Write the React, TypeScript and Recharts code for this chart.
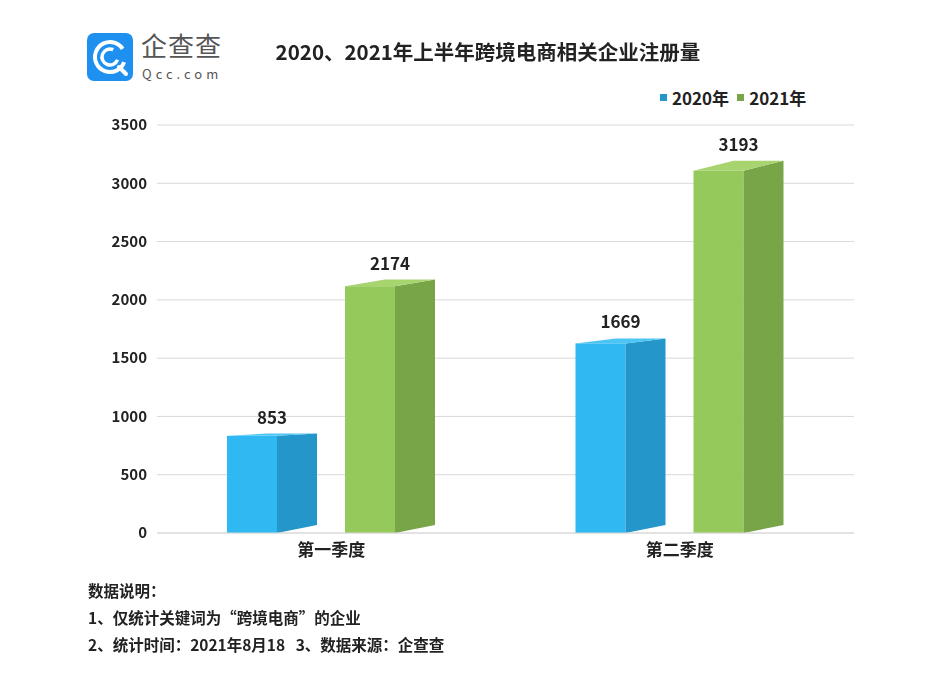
import React from 'react';
import { BarChart, Bar, XAxis, YAxis, CartesianGrid, LabelList } from 'recharts';

const quarters = ['第一季度', '第二季度'];
const values2020 = [853, 1669];
const values2021 = [2174, 3193];
const yTicks = [0, 500, 1000, 1500, 2000, 2500, 3000, 3500];

const data = quarters.map((q, i) => ({ quarter: q, y2020: values2020[i], y2021: values2021[i] }));

const FONT = '"Noto Sans CJK SC", "Noto Sans", sans-serif';

const BLUE = { front: '#2fb8f1', side: '#2596c9', top: '#4cc4f4' };
const GREEN = { front: '#95c95b', side: '#78a548', top: '#a8d470' };

// fake 3D column: front face, right side face, top face
const Box = (props: any) => {
  const { x, y, width, height, colors } = props;
  if (!height || height <= 0) return null;
  const fw = width * 5 / 9;
  const d = width - fw;
  const dy = Math.max(2, 0.028 * height - 0.5);
  const bottom = y + height;
  return (
    <g>
      <rect x={x} y={y + dy} width={fw} height={height - dy} fill={colors.front} />
      <polygon
        points={`${x + fw},${y + dy} ${x + width},${y} ${x + width},${bottom - 8} ${x + fw},${bottom}`}
        fill={colors.side}
      />
      <polygon
        points={`${x},${y + dy} ${x + d},${y} ${x + width},${y} ${x + fw},${y + dy}`}
        fill={colors.top}
      />
    </g>
  );
};

const Logo = () => (
  <div style={{ position: 'absolute', left: 87, top: 33, width: 140, height: 50 }}>
    <svg width={46} height={48} style={{ position: 'absolute', left: 0, top: 0 }}>
      <rect x={0} y={0} width={46} height={48} rx={7} fill="#1e90f0" />
      <circle cx={23} cy={24} r={15} fill="none" stroke="#fff" strokeWidth={4} strokeDasharray="80 20" transform="rotate(20 23 24)" />
      <circle cx={23} cy={24} r={8} fill="none" stroke="#fff" strokeWidth={3.5} strokeDasharray="38 12" transform="rotate(20 23 24)" />
      <line x1={32} y1={34} x2={39} y2={41} stroke="#fff" strokeWidth={4} strokeLinecap="round" />
    </svg>
    <div style={{ position: 'absolute', left: 54, top: -1, color: '#555', fontFamily: FONT, fontSize: 26, lineHeight: '26px', letterSpacing: 1, whiteSpace: 'nowrap' }}>企查查</div>
    <div style={{ position: 'absolute', left: 55, top: 34, color: '#555', fontFamily: FONT, fontSize: 13, lineHeight: '13px', letterSpacing: 4, whiteSpace: 'nowrap' }}>Qcc.com</div>
  </div>
);

const LegendBox = () => (
  <div style={{ position: 'absolute', left: 660, top: 85, display: 'flex', alignItems: 'center', fontFamily: FONT, fontWeight: 700, fontSize: 17, color: '#222' }}>
    <span style={{ width: 7, height: 7, background: BLUE.side, marginRight: 5 }} />
    <span style={{ marginRight: 8 }}>2020年</span>
    <span style={{ width: 7, height: 7, background: GREEN.side, marginRight: 5 }} />
    <span>2021年</span>
  </div>
);

const App = () => {
  const tickStyle = { fontFamily: FONT, fontWeight: 700, fontSize: 15, fill: '#222' };
  const xTickStyle = { fontFamily: FONT, fontWeight: 700, fontSize: 17, fill: '#222' };
  return (
    <div style={{ position: 'fixed', left: 0, top: 0, width: 952, height: 685, background: '#fff', fontFamily: FONT }}>
      <Logo />
      <div style={{ position: 'absolute', left: 0, width: 976, top: 36, textAlign: 'center', fontSize: 20.5, fontWeight: 700, color: '#222' }}>
        2020、2021年上半年跨境电商相关企业注册量
      </div>
      <LegendBox />
      <BarChart width={952} height={685} data={data} margin={{ top: 125, right: 98, bottom: 122, left: 97 }} barSize={90} barGap={28}>
        <CartesianGrid vertical={false} stroke="#d9d9d9" />
        <XAxis dataKey="quarter" axisLine={{ stroke: '#d9d9d9' }} tickLine={false} tickSize={0} tickMargin={11} tick={xTickStyle} height={30} />
        <YAxis domain={[0, 3500]} ticks={yTicks} axisLine={false} tickLine={false} tickSize={0} tickMargin={10} width={60} tick={tickStyle} />
        <Bar dataKey="y2020" isAnimationActive={false} shape={(p: any) => <Box {...p} colors={BLUE} />}>
          <LabelList dataKey="y2020" position="top" offset={10} style={{ fontFamily: FONT, fontWeight: 700, fontSize: 17, fill: '#222' }} />
        </Bar>
        <Bar dataKey="y2021" isAnimationActive={false} shape={(p: any) => <Box {...p} colors={GREEN} />}>
          <LabelList dataKey="y2021" position="top" offset={10} style={{ fontFamily: FONT, fontWeight: 700, fontSize: 17, fill: '#222' }} />
        </Bar>
      </BarChart>
      <div style={{ position: 'absolute', left: 88, top: 577, fontSize: 15.5, fontWeight: 700, color: '#222', lineHeight: '27px' }}>
        <div>数据说明：</div>
        <div>1、仅统计关键词为“跨境电商”的企业</div>
        <div>2、统计时间：2021年8月18&nbsp;&nbsp;&nbsp;3、数据来源：企查查</div>
      </div>
    </div>
  );
};

export default App;
